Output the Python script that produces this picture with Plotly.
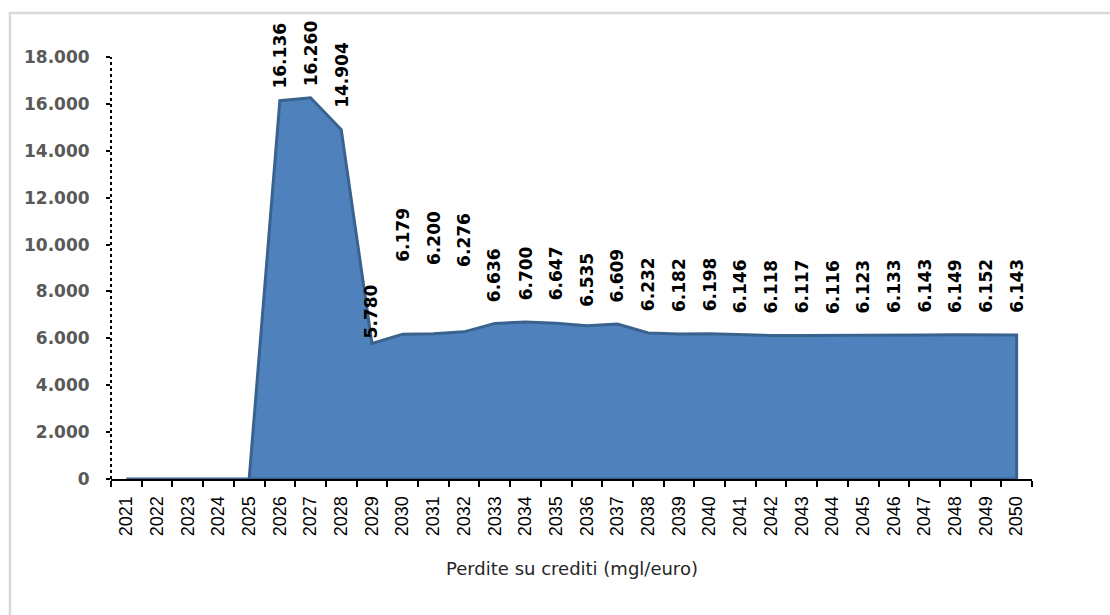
import plotly.graph_objects as go

# Annual credit losses (thousands of euro), 2021-2050
years = [str(y) for y in range(2021, 2051)]
losses = [0, 0, 0, 0, 0,
          16136, 16260, 14904, 5780, 6179, 6200, 6276, 6636, 6700, 6647,
          6535, 6609, 6232, 6182, 6198, 6146, 6118, 6117, 6116, 6123,
          6133, 6143, 6149, 6152, 6143]
y_ticks = list(range(0, 18001, 2000))
x_title = "Perdite su crediti (mgl/euro)"

# pixel gap between each point and the foot of its rotated value label
label_gap_px = [0, 0, 0, 0, 0,
                10, 9, 20, 3, 70, 67, 63, 19, 20, 21,
                17, 19, 20, 20, 20, 20, 20, 20, 20, 20,
                20, 20, 20, 20, 20]

FILL = "#4F81BD"
EDGE = "#3A628F"
FONT = "DejaVu Sans"
TICK_FONT = "Liberation Sans"

fig = go.Figure()

# Closed outline: series, then down to the baseline and back to the start
poly_x = years + [years[-1], years[0]]
poly_y = losses + [0, 0]
fig.add_trace(go.Scatter(
    x=poly_x, y=poly_y, mode="lines", fill="toself",
    fillcolor=FILL, line=dict(color=EDGE, width=3),
    hoverinfo="skip", showlegend=False,
))


def fmt(v):
    return f"{v:,}".replace(",", ".")


annotations = []
for i, (v, gap) in enumerate(zip(losses, label_gap_px)):
    if v <= 0:
        continue
    # category position given by index so year strings are not read as numbers
    annotations.append(dict(
        x=i, y=v, xref="x", yref="y", text=fmt(v), textangle=-90,
        showarrow=False, xanchor="center", yanchor="bottom", yshift=gap,
        font=dict(family=FONT, size=17, color="#000000", weight="bold"),
    ))

annotations.append(dict(
    x=0.5, y=-0.211, xref="paper", yref="paper", text=x_title,
    showarrow=False, xanchor="center", yanchor="middle",
    font=dict(family=FONT, size=18, color="#262626"),
))

shapes = [
    # dotted vertical value axis
    dict(type="line", xref="paper", yref="y", x0=0, x1=0, y0=0, y1=y_ticks[-1],
         line=dict(color="#000000", width=2, dash="dot"), layer="above"),
    # light gray frame around the chart
    dict(type="rect", xref="paper", yref="paper", x0=-0.1097, x1=1.3,
         y0=-0.6, y1=1.104, line=dict(color="#D9D9D9", width=2.5),
         layer="below"),
]

fig.update_layout(
    width=1110, height=615,
    margin=dict(l=111, r=78, t=57, b=136),
    paper_bgcolor="white", plot_bgcolor="white",
    separators=",.",
    showlegend=False,
    annotations=annotations,
    shapes=shapes,
    xaxis=dict(
        type="category", categoryorder="array", categoryarray=years,
        range=[-0.5, len(years) - 0.5],
        tickmode="array", tickvals=years, ticktext=years,
        tickangle=-90, tickson="boundaries",
        ticks="outside", ticklen=6, tickwidth=2, tickcolor="#000000",
        ticklabelstandoff=8,
        showline=True, linecolor="#000000", linewidth=2,
        showgrid=False, zeroline=False,
        tickfont=dict(family=TICK_FONT, size=18, color="#000000"),
    ),
    yaxis=dict(
        range=[0, y_ticks[-1]],
        tickmode="array", tickvals=y_ticks,
        tickformat=",d",
        ticks="outside", ticklen=4, tickwidth=2, tickcolor="#000000",
        ticklabelstandoff=13,
        showline=False, showgrid=False, zeroline=False,
        tickfont=dict(family=FONT, size=17, color="#595959", weight="bold"),
    ),
)

fig.write_html("out.html")
